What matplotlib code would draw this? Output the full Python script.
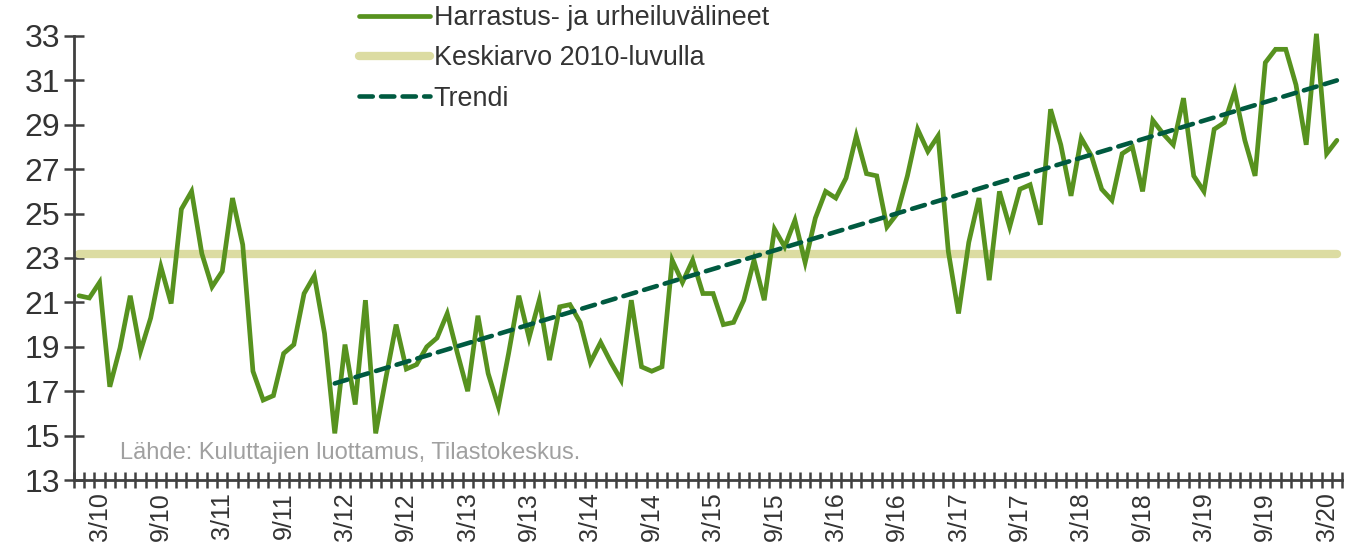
import matplotlib
matplotlib.use("Agg")
import matplotlib.pyplot as plt
from matplotlib.ticker import FixedLocator, NullFormatter

plt.rcParams['font.family'] = ['Liberation Sans', 'DejaVu Sans']

# ---- data (monthly, Jan 2010 .. Apr 2020) ----
values = [
    21.3, 21.2, 21.9, 17.2, 18.95, 21.3, 18.8, 20.3, 22.6, 20.95, 25.2, 26.0,   # 2010
    23.2, 21.7, 22.4, 25.7, 23.6, 17.9, 16.6, 16.8, 18.7, 19.1, 21.4, 22.2,     # 2011
    19.6, 15.1, 19.1, 16.4, 21.1, 15.1, 17.6, 20.0, 18.0, 18.2, 19.0, 19.4,     # 2012
    20.5, 18.7, 17.0, 20.4, 17.8, 16.3, 18.7, 21.3, 19.4, 21.1, 18.4, 20.8,     # 2013
    20.9, 20.1, 18.3, 19.2, 18.3, 17.5, 21.1, 18.1, 17.9, 18.1, 22.9, 21.9,     # 2014
    22.9, 21.4, 21.4, 20.0, 20.1, 21.1, 22.9, 21.1, 24.3, 23.5, 24.7, 22.8,     # 2015
    24.8, 26.0, 25.7, 26.6, 28.5, 26.8, 26.7, 24.4, 25.0, 26.7, 28.8, 27.8,     # 2016
    28.5, 23.3, 20.5, 23.7, 25.7, 22.0, 26.0, 24.4, 26.1, 26.3, 24.5, 29.7,     # 2017
    28.1, 25.8, 28.4, 27.6, 26.1, 25.6, 27.7, 28.0, 26.0, 29.2, 28.6, 28.1,     # 2018
    30.2, 26.7, 26.0, 28.8, 29.1, 30.5, 28.3, 26.7, 31.8, 32.4, 32.4, 30.8,     # 2019
    28.1, 33.1, 27.7, 28.3,                                                     # 2020
]
avg_value = 23.2                 # Keskiarvo 2010-luvulla
trend_start_idx = 25             # Feb 2012
trend_end_idx = 123              # Apr 2020
trend_start_value = 17.35
trend_end_value = 31.0

tick_labels = ["3/10", "9/10", "3/11", "9/11", "3/12", "9/12", "3/13", "9/13",
               "3/14", "9/14", "3/15", "9/15", "3/16", "9/16", "3/17", "9/17",
               "3/18", "9/18", "3/19", "9/19", "3/20"]
tick_positions = [2 + 6 * k for k in range(len(tick_labels))]

series_labels = ["Harrastus- ja urheiluvälineet", "Keskiarvo 2010-luvulla", "Trendi"]
source_text = "Lähde: Kuluttajien luottamus, Tilastokeskus."

# ---- figure ----
W, H = 1346, 544
fig = plt.figure(figsize=(W / 100, H / 100), dpi=100)
ax = fig.add_axes([74 / W, 64 / H, (1342 - 74) / W, (480 - 36) / H])

n = len(values)
x = list(range(n))

green = '#57921f'
khaki = '#dcdca2'
teal = '#005a40'
axis_col = '#404040'
text_col = '#333333'

l_avg, = ax.plot([x[0], x[-1]], [avg_value, avg_value], color=khaki, lw=6,
                 solid_capstyle='round', zorder=2, label=series_labels[1])
l_main, = ax.plot(x, values, color=green, lw=3.4, solid_joinstyle='miter',
                  solid_capstyle='round', zorder=3, clip_on=False, label=series_labels[0])
l_trend, = ax.plot([trend_start_idx, trend_end_idx], [trend_start_value, trend_end_value],
                   color=teal, lw=3.3, dashes=(2.9, 1.8), dash_capstyle='round',
                   zorder=4, label=series_labels[2])

ax.set_xlim(-0.5, n - 0.5)
ax.set_ylim(13, 33)

# spines
for s in ['top', 'right']:
    ax.spines[s].set_visible(False)
for s in ['left', 'bottom']:
    ax.spines[s].set_color(axis_col)
    ax.spines[s].set_linewidth(2)

# y ticks
ax.set_yticks(range(13, 34, 2))
ax.tick_params(axis='y', direction='inout', length=14, width=1.8, color=axis_col,
               labelsize=23, labelcolor=text_col, pad=3)

# x ticks: labels at category centres, crossing ticks at every boundary
ax.set_xticks(tick_positions)
ax.set_xticklabels(tick_labels, rotation=90, fontsize=18, color=text_col)
ax.tick_params(axis='x', which='major', length=0, pad=9)
ax.xaxis.set_minor_locator(FixedLocator([i - 0.5 for i in range(n + 1)]))
ax.xaxis.set_minor_formatter(NullFormatter())
ax.tick_params(axis='x', which='minor', direction='inout', length=12, width=1.8,
               color=axis_col)

# source text
fig.text(120 / W, 1 - 453 / H, source_text, fontsize=17,
         color='#a0a0a0', va='center', ha='left')

# legend
fig.legend(handles=[l_main, l_avg, l_trend], labels=series_labels,
           loc='upper left', bbox_to_anchor=(359 / W, 1 - 5 / H),
           frameon=False, fontsize=19.4, handlelength=2.65, handletextpad=0.12,
           labelspacing=0.53, borderpad=0, borderaxespad=0, labelcolor=text_col)

fig.savefig('out.png', dpi=100)
